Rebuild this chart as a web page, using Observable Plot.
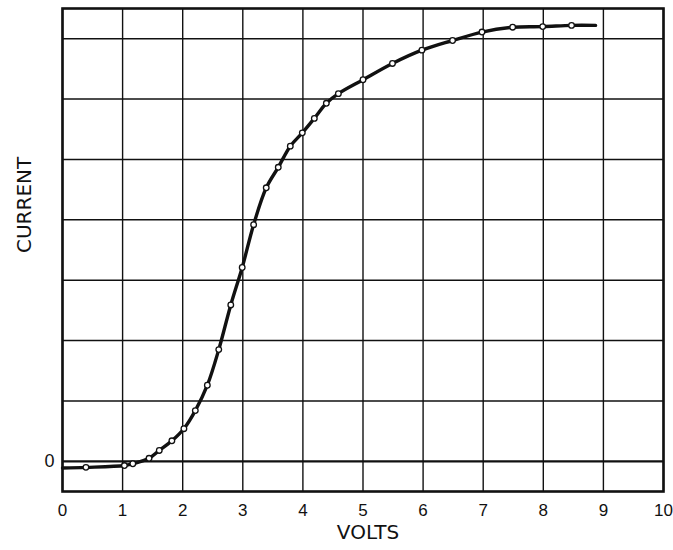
<!DOCTYPE html>
<html>
<head>
<meta charset="utf-8">
<script src="https://cdn.jsdelivr.net/npm/d3@7"></script>
<script src="https://cdn.jsdelivr.net/npm/@observablehq/plot@0.6"></script>
<style>
  html, body { margin: 0; padding: 0; background: #fff; }
</style>
</head>
<body>
<div id="chart"></div>
<script>
// Measured readings (circles)
const volts   = [0.39, 1.03, 1.17, 1.44, 1.61, 1.82, 2.02, 2.21, 2.41, 2.60, 2.80, 2.99, 3.18, 3.39, 3.59, 3.79, 3.99, 4.19, 4.39, 4.59, 5.00, 5.49, 5.98, 6.49, 6.98, 7.49, 7.99, 8.47];
const current = [-0.10, -0.07, -0.04, 0.05, 0.18, 0.34, 0.54, 0.84, 1.26, 1.85, 2.59, 3.21, 3.92, 4.53, 4.87, 5.22, 5.44, 5.68, 5.93, 6.09, 6.32, 6.59, 6.81, 6.97, 7.11, 7.19, 7.20, 7.22];
// Ends of the drawn curve beyond the first and last readings
const curveStartX = 0, curveStartY = -0.11;
const curveEndX = 8.87, curveEndY = 7.22;

const xTicks = [0, 1, 2, 3, 4, 5, 6, 7, 8, 9, 10];
const yGrid = [1, 2, 3, 4, 5, 6, 7];
const yZero = [0];
const yTickLabels = [0];
const xLabel = "VOLTS";
const yLabel = "CURRENT";

const points = volts.map((v, i) => ({v, c: current[i]}));
const curve = [{v: curveStartX, c: curveStartY}, ...points, {v: curveEndX, c: curveEndY}];

const chart = Plot.plot({
  width: 673,
  height: 550,
  marginLeft: 62,
  marginRight: 10,
  marginTop: 8,
  marginBottom: 59,
  style: {fontFamily: "DejaVu Sans, sans-serif", fontSize: "17px", color: "#111", background: "#fff"},
  x: {domain: [0, 10]},
  y: {domain: [-0.5, 7.5]},
  marks: [
    Plot.ruleX(xTicks, {stroke: "#111", strokeWidth: 1.4}),
    Plot.ruleY(yGrid, {stroke: "#111", strokeWidth: 1.4}),
    Plot.ruleY(yZero, {stroke: "#111", strokeWidth: 2.2}),
    Plot.frame({stroke: "#111", strokeWidth: 2.6}),
    Plot.line(curve, {x: "v", y: "c", curve: "catmull-rom", stroke: "#111", strokeWidth: 3.4}),
    Plot.dot(points, {x: "v", y: "c", r: 2.8, fill: "#fff", stroke: "#111", strokeWidth: 1.3}),
    Plot.axisX({ticks: xTicks, tickSize: 0, tickPadding: 12, label: null, fontSize: 17, fontFamily: "Liberation Sans, sans-serif"}),
    Plot.axisY({ticks: yTickLabels, tickSize: 0, tickPadding: 8, label: null, fontSize: 18, fontFamily: "Liberation Sans, sans-serif"}),
    Plot.text([xLabel], {frameAnchor: "bottom", dx: 5, dy: 47, fontSize: 20, fill: "#111", text: d => d}),
    Plot.text([yLabel], {frameAnchor: "left", rotate: -90, dx: -38, dy: 3, fontSize: 20, fill: "#111", text: d => d})
  ]
});
document.getElementById("chart").appendChild(chart);
</script>
</body>
</html>
